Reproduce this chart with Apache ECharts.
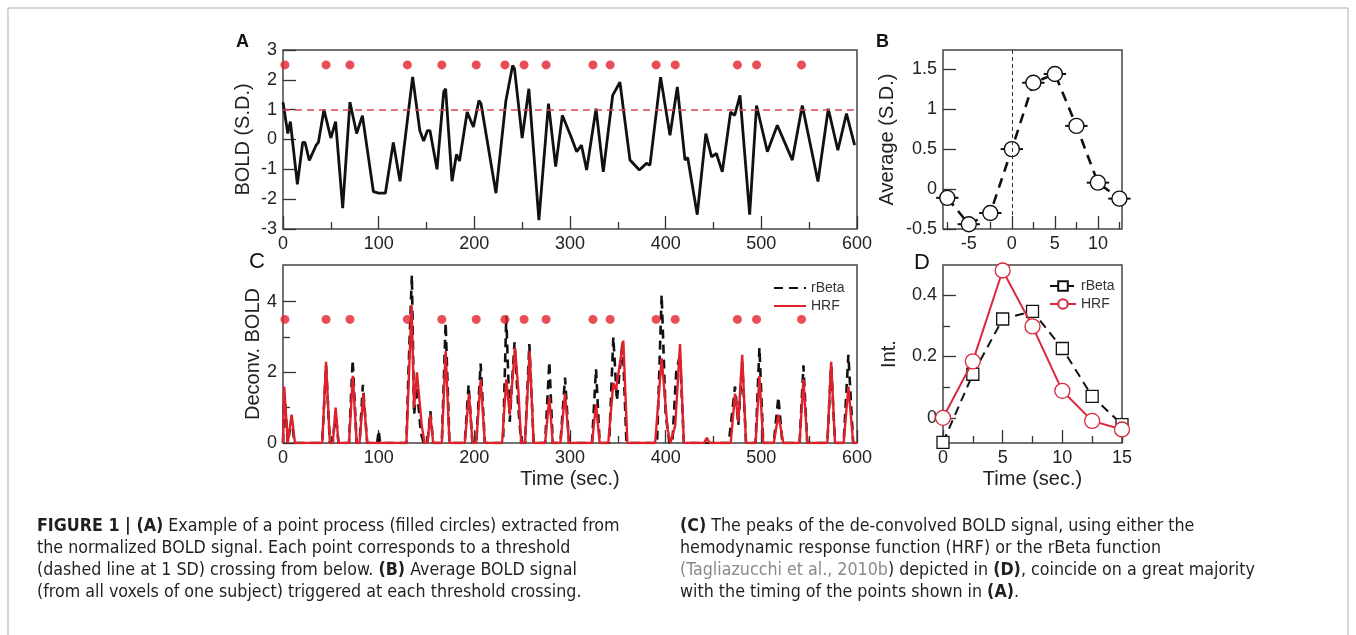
<!DOCTYPE html>
<html>
<head>
<meta charset="utf-8">
<script src="https://cdn.jsdelivr.net/npm/echarts@6/dist/echarts.min.js"></script>
<style>
html,body{margin:0;padding:0;background:#fff;}
#c{width:1356px;height:635px;}
</style>
</head>
<body>
<div id="c"></div>
<script>
// ---------- Panel A: normalized BOLD signal ----------
const boldTime = [0,5,7.7,15,20.6,23,27.5,34.5,37,42.8,50,55,62.4,70,77,83,94.5,100,107,115.3,117,122.3,135.5,143,147,151,153.6,161,163,168,170,176.7,181.3,184.5,192.5,199,204.8,207,222.6,233,240,242,250,257,267.5,277.5,285,292,301,307,312,317.4,327.2,334.8,344.6,352.2,362.7,372.5,380,383.6,394.7,404.5,412.2,420.2,423,433,442,448,453,459.2,467.9,472.1,477.7,487.8,495,506.3,516.7,532.4,542.8,559.2,570,580,589,597.5];
const boldValue = [1.25,0.2,0.6,-1.5,-0.1,-0.1,-0.7,-0.2,-0.1,1.0,0.05,0.6,-2.3,1.25,0.2,0.8,-1.75,-1.8,-1.8,-0.1,-0.1,-1.4,2.1,0.3,-0.05,0.3,0.3,-1.0,-1.0,1.6,1.7,-1.4,-0.5,-0.72,0.92,0.42,1.31,1.2,-1.8,1.3,2.48,2.37,0.05,1.7,-2.7,1.2,-0.91,0.81,0.1,-0.41,-0.19,-1.02,1.03,-1.08,1.48,1.92,-0.69,-1.02,-0.8,-0.86,2.09,0.14,1.76,-0.69,-0.6,-2.52,0.2,-0.58,-0.47,-1.08,0.92,0.81,1.48,-2.52,1.14,-0.41,0.48,-0.69,1.14,-1.41,1.03,-0.36,0.87,-0.19];
const pointTimes = [2,45,70,130,166,202,232,252,275,324,342,390,410,475,495,542];
const pointLevelA = 2.5;
const thresholdSD = 1;

// ---------- Panel B: triggered average ----------
const bTime = [-7.5,-5,-2.5,0,2.5,5,7.5,10,12.5];
const bAvg = [-0.11,-0.44,-0.3,0.5,1.33,1.44,0.79,0.08,-0.12];
const bErrX = [1.3,1.3,1.3,1.3,1.3,1.3,1.3,1.3,1.3];

// ---------- Panel C: deconvolved BOLD ----------
const rbTime = [0,1.5,5,9,12,41,45,49,52,55,58,69,72.8,77,80,83.5,88,98.5,100,101.5,129,131,134.7,137,140,144,147,151,154,157,166,170,174,190,194,198,202,206.6,211,230,233.4,237,242,246,249,253,257.5,262,274,278.4,282,290,294.8,299,323,327.2,331,341,345.3,349,355,359,391,395.8,400,404,407,411,415,419,466,472.5,476,480,484,494,498,502,513,517.8,522,540,544,548,569,573,577,586,591,596,600];
const rbValue = [0,1.4,0,0.7,0,0,2.2,0,0,0.9,0,0,2.35,0,0,1.65,0,0,0.35,0,0,1.9,4.75,0.8,1.6,0.3,0,0,0.9,0,0,3.4,0,0,1.65,0,0,2.25,0,0,3.6,0.6,2.85,1.0,0,0,2.8,0,0,2.3,0,0,1.85,0,0,2.1,0,0,3.0,1.2,2.9,0,0,4.2,0.8,0,0,2.0,2.5,0,0,1.6,0.5,2.3,0,0,2.7,0,0,1.3,0,0,2.2,0,0,2.2,0,0,2.5,0,0];
const hrfTime = [0,1.3,5,9,12.5,41,45,49,52,55,58,69,73,77,80,84,88,129,134.4,137,140,145,148,151,154,157,166,170,174,190,194.4,198,202,206.6,211,229,233.4,237,242.5,246,249,253,257.8,262,274,278.4,282,290,294.8,299,323,327.2,331,340,345.3,348,355.7,360,389,395.8,402,405,410,415,419,440,443,446,468,472.5,476,480,484,494,498,502,513,517.8,523,540,544,548,569,573,577,586,591,596,600];
const hrfValue = [0,1.6,0,0.8,0,0,2.3,0,0,1.0,0,0,1.9,0,0,1.4,0,0,3.9,1.0,2.0,0.5,0,0,0.8,0,0,2.6,0,0,1.4,0,0,1.8,0,0,1.8,0.8,2.7,1.5,0,0,2.6,0,0,1.3,0,0,1.4,0,0,1.1,0,0,1.7,1.5,2.9,0,0,2.4,0.4,0,0.5,2.8,0,0,0.15,0,0,1.4,0.6,2.5,0,0,1.9,0,0,0.8,0,0,1.8,0,0,2.3,0,0,1.6,0,0];
const pointLevelC = 3.5;

// ---------- Panel D: kernels ----------
const dTime = [0,2.5,5,7.5,10,12.5,15];
const dRBeta = [-0.08,0.142,0.322,0.347,0.226,0.07,-0.022];
const dHRF = [0,0.184,0.48,0.298,0.088,-0.01,-0.038];

// ---------- tick labels ----------
const aXTicks = [0,100,200,300,400,500,600];
const aXMinor = [50,150,250,350,450,550];
const aYTicks = [-3,-2,-1,0,1,2,3];
const bXTicks = [-5,0,5,10];
const bXMinor = [-7.5,-2.5,2.5,7.5,12.5];
const bYTicks = [-0.5,0,0.5,1,1.5];
const cYTicks = [0,2,4];
const cYMinor = [1,3];
const dXTicks = [0,5,10,15];
const dXMinor = [2.5,7.5,12.5];
const dYTicks = [0,0.2,0.4];
const dYMinor = [0.1,0.3];

const FONT = "'Liberation Sans', Arial, Helvetica, sans-serif";
const zip = (a, b) => a.map((v, i) => [v, b[i]]);

const grids = [
  {left: 283, top: 50, width: 574, height: 179},
  {left: 943, top: 50, width: 179, height: 179},
  {left: 283, top: 265, width: 574, height: 178},
  {left: 943, top: 265, width: 179, height: 178}
].map(g => Object.assign({show: true, borderColor: '#444', borderWidth: 1.5, backgroundColor: 'transparent'}, g));

function majorAxis(gi, pos, min, max, ticks, extra) {
  return Object.assign({
    type: 'value', gridIndex: gi, position: pos, min: min, max: max,
    axisLine: {show: false, onZero: false},
    splitLine: {show: false},
    axisTick: {show: true, inside: true, length: 13, customValues: ticks, lineStyle: {color: '#333', width: 1.3}},
    axisLabel: {show: true, customValues: ticks, fontFamily: FONT, fontSize: 18, color: '#222', margin: 6,
      formatter: v => String(v)},
    nameTextStyle: {fontFamily: FONT, fontSize: 20, color: '#222'}
  }, extra || {});
}
function minorAxis(gi, pos, min, max, ticks) {
  return {
    type: 'value', gridIndex: gi, position: pos, min: min, max: max,
    axisLine: {show: false, onZero: false}, splitLine: {show: false},
    axisTick: {show: true, inside: true, length: 7, customValues: ticks, lineStyle: {color: '#333', width: 1.3}},
    axisLabel: {show: false}
  };
}

const xAxis = [
  majorAxis(0, 'bottom', 0, 600, aXTicks),
  minorAxis(0, 'bottom', 0, 600, aXMinor),
  majorAxis(1, 'bottom', -8, 12.8, bXTicks),
  minorAxis(1, 'bottom', -8, 12.8, bXMinor),
  majorAxis(2, 'bottom', 0, 600, aXTicks, {name: 'Time (sec.)', nameLocation: 'middle', nameGap: 26}),
  minorAxis(2, 'bottom', 0, 600, aXMinor),
  majorAxis(3, 'bottom', 0, 15, dXTicks, {name: 'Time (sec.)', nameLocation: 'middle', nameGap: 26}),
  minorAxis(3, 'bottom', 0, 15, dXMinor)
];
const yAxis = [
  majorAxis(0, 'left', -3, 3, aYTicks, {name: 'BOLD (S.D.)', nameLocation: 'middle', nameGap: 30}),
  minorAxis(0, 'left', -3, 3, []),
  majorAxis(1, 'left', -0.5, 1.74, bYTicks, {name: 'Average (S.D.)', nameLocation: 'middle', nameGap: 46}),
  minorAxis(1, 'left', -0.5, 1.74, []),
  majorAxis(2, 'left', 0, 5.04, cYTicks, {name: 'Deconv. BOLD', nameLocation: 'middle', nameGap: 20}),
  minorAxis(2, 'left', 0, 5.04, cYMinor),
  majorAxis(3, 'left', -0.082, 0.498, dYTicks, {name: 'Int.', nameLocation: 'middle', nameGap: 44}),
  minorAxis(3, 'left', -0.082, 0.498, dYMinor)
];

const series = [
  // A
  {type: 'line', name: 'BOLD', xAxisIndex: 0, yAxisIndex: 0, data: zip(boldTime, boldValue),
   showSymbol: false, symbol: 'none', lineStyle: {color: '#111', width: 2.8}, z: 3,
   markLine: {silent: true, symbol: 'none', label: {show: false},
     lineStyle: {color: '#d6455a', width: 1.5, type: [7, 5]}, data: [{yAxis: thresholdSD}]}},
  {type: 'scatter', name: 'pointsA', xAxisIndex: 0, yAxisIndex: 0, data: pointTimes.map(t => [t, pointLevelA]),
   symbolSize: 9, itemStyle: {color: '#e3202a'}, z: 4},
  // B
  {type: 'custom', name: 'errB', xAxisIndex: 2, yAxisIndex: 2, z: 2,
   data: bTime.map((t, i) => [t, bAvg[i], bErrX[i]]),
   renderItem: (params, api) => {
     const x = api.value(0), y = api.value(1), e = api.value(2);
     const p1 = api.coord([x - e, y]), p2 = api.coord([x + e, y]);
     return {type: 'line', shape: {x1: p1[0], y1: p1[1], x2: p2[0], y2: p2[1]}, style: {stroke: '#111', lineWidth: 2}};
   }},
  {type: 'line', name: 'avgB', xAxisIndex: 2, yAxisIndex: 2, data: zip(bTime, bAvg), z: 3,
   symbol: 'circle', symbolSize: 15, lineStyle: {color: '#111', width: 2.6, type: [10, 7]},
   itemStyle: {color: '#fff', borderColor: '#111', borderWidth: 1.4},
   markLine: {silent: true, symbol: 'none', label: {show: false},
     lineStyle: {color: '#333', width: 1, type: [4, 3]}, data: [{xAxis: 0}]}},
  // C
  {type: 'line', name: 'rBeta', xAxisIndex: 4, yAxisIndex: 4, data: zip(rbTime, rbValue),
   symbol: 'none', itemStyle: {color: '#111'}, lineStyle: {color: '#111', width: 2.6, type: [9, 6]}, z: 3},
  {type: 'line', name: 'HRF', xAxisIndex: 4, yAxisIndex: 4, data: zip(hrfTime, hrfValue),
   symbol: 'none', itemStyle: {color: '#e0202a'}, lineStyle: {color: '#e0202a', width: 2.4}, z: 4},
  {type: 'scatter', name: 'pointsC', xAxisIndex: 4, yAxisIndex: 4, data: pointTimes.map(t => [t, pointLevelC]),
   symbolSize: 9, itemStyle: {color: '#e3202a'}, z: 5},
  // D
  {type: 'line', name: 'rBeta ', xAxisIndex: 6, yAxisIndex: 6, data: zip(dTime, dRBeta), z: 3,
   symbol: 'rect', symbolSize: 12, lineStyle: {color: '#111', width: 2, type: [9, 6]},
   itemStyle: {color: '#fff', borderColor: '#111', borderWidth: 1.3}},
  {type: 'line', name: 'HRF ', xAxisIndex: 6, yAxisIndex: 6, data: zip(dTime, dHRF), z: 4,
   symbol: 'circle', symbolSize: 15, lineStyle: {color: '#d8283a', width: 2},
   itemStyle: {color: '#fff', borderColor: '#d8283a', borderWidth: 1.3}}
];

const captionLeft = '{b|FIGURE 1 | (A)} Example of a point process (filled circles) extracted from\n' +
  'the normalized BOLD signal. Each point corresponds to a threshold\n' +
  '(dashed line at 1 SD) crossing from below. {b|(B)} Average BOLD signal\n' +
  '(from all voxels of one subject) triggered at each threshold crossing.';
const captionRight = '{b|(C)} The peaks of the de-convolved BOLD signal, using either the\n' +
  'hemodynamic response function (HRF) or the rBeta function\n' +
  '{g|(Tagliazucchi et al., 2010b}) depicted in {b|(D)}, coincide on a great majority\n' +
  'with the timing of the points shown in {b|(A)}.';
const CAP_FONT = "'Liberation Sans Narrow', 'DejaVu Sans Condensed', 'Liberation Sans', sans-serif";
const CAP_SIZE = 17.7;
const capStyle = (txt, x) => ({
  type: 'text', left: x, top: 515, silent: true,
  style: {text: txt, fontFamily: CAP_FONT, fontSize: CAP_SIZE, lineHeight: 22, fill: '#231f20',
    rich: {b: {fontWeight: 'bold', fontFamily: CAP_FONT, fontSize: CAP_SIZE, lineHeight: 22, fill: '#231f20'},
           g: {fontFamily: CAP_FONT, fontSize: CAP_SIZE, lineHeight: 22, fill: '#8a8a8a'}}}
});

const option = {
  animation: false,
  backgroundColor: '#fff',
  textStyle: {fontFamily: FONT},
  grid: grids,
  xAxis: xAxis,
  yAxis: yAxis,
  legend: [
    {data: ['rBeta', 'HRF'], left: 768, top: 276, orient: 'vertical', itemWidth: 32, itemHeight: 10, itemGap: 4,
     itemStyle: {opacity: 0},
     textStyle: {fontFamily: FONT, fontSize: 14, color: '#333'}},
    {data: ['rBeta ', 'HRF '], left: 1044, top: 274, orient: 'vertical', itemWidth: 26, itemHeight: 12, itemGap: 4,
     textStyle: {fontFamily: FONT, fontSize: 14, color: '#333'}}
  ],
  series: series,
  graphic: [
    {type: 'rect', silent: true, shape: {x: 8, y: 8, width: 1340, height: 640},
     style: {fill: 'none', stroke: '#b0b0b0', lineWidth: 1}},
    {type: 'text', left: 236, top: 33, silent: true, style: {text: 'A', fontFamily: FONT, fontSize: 18, fontWeight: 'bold', fill: '#111'}},
    {type: 'text', left: 876, top: 33, silent: true, style: {text: 'B', fontFamily: FONT, fontSize: 18, fontWeight: 'bold', fill: '#111'}},
    {type: 'text', left: 249, top: 251, silent: true, style: {text: 'C', fontFamily: FONT, fontSize: 22, fill: '#111'}},
    {type: 'text', left: 914, top: 252, silent: true, style: {text: 'D', fontFamily: FONT, fontSize: 22, fill: '#111'}},
    capStyle(captionLeft, 37),
    capStyle(captionRight, 680)
  ]
};

const chart = echarts.init(document.getElementById('c'), null, {renderer: 'canvas'});
chart.setOption(option);
</script>
</body>
</html>
